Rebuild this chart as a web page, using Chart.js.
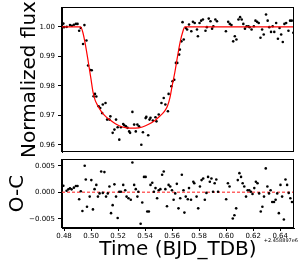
<!DOCTYPE html>
<html>
<head>
<meta charset="utf-8">
<script src="https://cdn.jsdelivr.net/npm/chart.js@4/dist/chart.umd.min.js"></script>
<style>
  html, body { margin: 0; padding: 0; background: #fff; }
  #wrap { position: relative; width: 298px; height: 268px; overflow: hidden; }
  #top { position: absolute; left: 0; top: 0; }
  #bot { position: absolute; left: 0; top: 150px; }
</style>
</head>
<body>
<div id="wrap">
  <canvas id="top" width="298" height="157"></canvas>
  <canvas id="bot" width="298" height="118"></canvas>
</div>
<script>
// light curve data
const fluxTime = [
  0.4795, 0.4800, 0.4820, 0.4844, 0.4858, 0.4873, 0.4888, 0.4900, 0.4912, 0.4924,
  0.4951, 0.4941, 0.4966, 0.4978, 0.4995, 0.5005, 0.5019, 0.5029, 0.5039, 0.5056,
  0.5068, 0.5082, 0.5107, 0.5087, 0.5119, 0.5136, 0.5143, 0.5160, 0.5173, 0.5185,
  0.5197, 0.5209, 0.5221, 0.5238, 0.5246, 0.5258, 0.5270, 0.5282, 0.5289, 0.5306,
  0.5319, 0.5331, 0.5343, 0.5355, 0.5372, 0.5384, 0.5404, 0.5409, 0.5423, 0.5433,
  0.5440, 0.5457, 0.5477, 0.5484, 0.5501, 0.5521, 0.5538, 0.5550, 0.5569, 0.5574,
  0.5594, 0.5603, 0.5616, 0.5628,
  0.5638, 0.5652, 0.5657, 0.5669, 0.5677, 0.5686, 0.5701, 0.5711, 0.5725, 0.5742,
  0.5754, 0.5767, 0.5784, 0.5791, 0.5803, 0.5815, 0.5828, 0.5847, 0.5857, 0.5871,
  0.5884, 0.5896, 0.5905, 0.5920, 0.5932, 0.5998, 0.6015, 0.6027, 0.6039, 0.6052,
  0.6064, 0.6076, 0.6091, 0.6103, 0.6115, 0.6127, 0.6139, 0.6151, 0.6164, 0.6173,
  0.6188, 0.6205, 0.6217, 0.6229, 0.6241, 0.6254, 0.6266, 0.6278, 0.6295, 0.6307,
  0.6319, 0.6332, 0.6344, 0.6356, 0.6370, 0.6383, 0.6395, 0.6407, 0.6419, 0.6431,
  0.6444, 0.6461, 0.6473, 0.6485, 0.6497
];
const fluxValue = [
  1.0011, 0.9999, 1.0000, 1.0006, 1.0004, 1.0007, 1.0010, 1.0010, 0.9987, 0.9996,
  1.0006, 0.9942, 0.9954, 0.9869, 0.9854, 0.9853, 0.9765, 0.9773, 0.9764, 0.9731,
  0.9725, 0.9708, 0.9742, 0.9737, 0.9686, 0.9686, 0.9697, 0.9641, 0.9652, 0.9686,
  0.9660, 0.9618, 0.9660, 0.9671, 0.9667, 0.9663, 0.9658, 0.9646, 0.9641, 0.9712,
  0.9669, 0.9646, 0.9669, 0.9663, 0.9601, 0.9643, 0.9691, 0.9695, 0.9633, 0.9686,
  0.9692, 0.9683, 0.9694, 0.9680, 0.9703, 0.9742, 0.9759, 0.9737, 0.9714, 0.9773,
  0.9799, 0.9816, 0.9821, 0.9878,
  0.9878, 0.9906, 0.9923, 0.9951, 1.0016, 0.9957, 0.9996, 0.9991, 1.0008, 0.9985,
  1.0017, 1.0013, 0.9991, 0.9968, 1.0013, 1.0021, 1.0025, 0.9987, 0.9999, 1.0028,
  1.0019, 0.9994, 1.0002, 1.0025, 1.0019, 0.9985, 1.0017, 1.0010, 1.0006, 0.9951,
  0.9968, 0.9957, 1.0025, 1.0033, 1.0025, 1.0010, 0.9994, 1.0002, 1.0002, 0.9999,
  0.9991, 1.0002, 1.0021, 1.0017, 1.0013, 0.9963, 0.9991, 0.9974, 1.0042, 1.0021,
  0.9999, 0.9983, 1.0002, 0.9983, 1.0013, 0.9960, 0.9996, 0.9974, 0.9949, 1.0010,
  1.0013, 0.9987, 1.0021, 1.0021, 0.9980
];

// transit model (red curve)
const modelTime = [
  0.4785, 0.4922, 0.4940, 0.4960, 0.4980, 0.5000, 0.5015, 0.5030, 0.5050, 0.5075,
  0.5100, 0.5136, 0.5180, 0.5233, 0.5290, 0.5330, 0.5380, 0.5430, 0.5475, 0.5510,
  0.5540, 0.5565, 0.5584, 0.5600, 0.5620, 0.5640, 0.5660, 0.5680, 0.5693, 0.6502
];
const modelValue = [
  1.0000, 1.0000, 0.9980, 0.9935, 0.9880, 0.9822, 0.9778, 0.9752, 0.9733, 0.9714,
  0.9700, 0.9686, 0.9672, 0.9661, 0.9657, 0.9657, 0.9661, 0.9671, 0.9684, 0.9698,
  0.9712, 0.9731, 0.9760, 0.9800, 0.9846, 0.9900, 0.9950, 0.9985, 1.0000, 1.0000
];

// residuals O-C
const resTime = [
  0.4795, 0.4819, 0.4832, 0.4844, 0.4856, 0.4873, 0.4888, 0.4900, 0.4912, 0.4924,
  0.4936, 0.4953, 0.4961, 0.4970, 0.4990, 0.5002, 0.5014, 0.5026, 0.5039, 0.5051,
  0.5063, 0.5075, 0.5087, 0.5099, 0.5111, 0.5124, 0.5136, 0.5148, 0.5160, 0.5173,
  0.5185, 0.5197, 0.5209, 0.5221, 0.5238, 0.5253, 0.5263, 0.5277, 0.5294, 0.5306,
  0.5319, 0.5331, 0.5343, 0.5350, 0.5367, 0.5379, 0.5392, 0.5404, 0.5416,
  0.5428, 0.5440, 0.5453, 0.5465, 0.5477, 0.5489, 0.5501, 0.5513, 0.5526, 0.5538,
  0.5550, 0.5562, 0.5574, 0.5586, 0.5599, 0.5611, 0.5623, 0.5635, 0.5647, 0.5660,
  0.5672, 0.5684, 0.5691, 0.5701, 0.5716, 0.5725, 0.5740, 0.5757, 0.5764, 0.5781,
  0.5793, 0.5806, 0.5818, 0.5830, 0.5842, 0.5854, 0.5866, 0.5879, 0.5891, 0.5903,
  0.5915, 0.5927, 0.5940, 0.6000, 0.6013, 0.6025, 0.6049, 0.6061, 0.6074, 0.6086,
  0.6098, 0.6110, 0.6122, 0.6134, 0.6147, 0.6159, 0.6171, 0.6183, 0.6195, 0.6208,
  0.6220, 0.6232, 0.6244, 0.6256, 0.6268, 0.6280, 0.6293, 0.6305, 0.6317, 0.6329,
  0.6341, 0.6354, 0.6366, 0.6378, 0.6390, 0.6402, 0.6414, 0.6427, 0.6439, 0.6451,
  0.6463, 0.6475, 0.6487, 0.6499
];
const resValue = [
  0.00125, 0.0003, 0.00056, 0.00075, 0.00056, 0.00088, 0.0012, 0.0012, -0.0013, 0.0002,
  -0.0035, 0.0050, 0.0024, -0.0027, -0.0008, 0.0023, -0.0032, 0.0006, 0.0014, -0.0008,
  -0.0002, 0.0039, -0.0001, 0.0038, -0.0008, -0.0002, 0.0011, -0.0039, -0.0024, 0.0015,
  -0.0008, -0.0048, 0.0001, 0.0001, 0.0014, 0.0004, -0.0008, -0.0011, -0.0014, 0.0056,
  0.0014, 0.0006, -0.0008, 0.0001, -0.0059, -0.0019, 0.0029, 0.0029, -0.0036,
  -0.0036, 0.0014, 0.0018, 0.0001, 0.0008, -0.0011, 0.0004, 0.0006, 0.0033, 0.0039,
  0.0006, -0.0026, 0.0014, 0.0011, 0.0004, -0.0014, -0.0002, 0.0016, -0.0030, -0.0011,
  0.0033, 0.0004, -0.0038, -0.0008, -0.0013, 0.0008, -0.0014, 0.0020, 0.0017, -0.0008,
  -0.0030, 0.0011, 0.0023, 0.0026, -0.0014, -0.0001, 0.0029, 0.0020, 0.0026, 0.0001,
  0.0017, 0.0024, 0.0001, -0.0013, 0.0017, 0.0011, -0.0049, -0.0043, -0.0030, 0.0023,
  0.0036, 0.0029, 0.0017, 0.0011, -0.0008, 0.0004, 0.0004, 0.0001, -0.0003, 0.0008,
  0.0020, 0.0017, -0.0002, -0.0036, -0.0027, -0.0008, 0.0045, 0.0011, -0.0002, 0.0004,
  -0.0018, -0.0018, -0.0014, -0.0002, -0.0039, 0.0014, -0.0008, -0.0051, 0.0024, 0.0014,
  -0.0001, -0.0011, -0.0018, -0.0018
];

const xTicks = [0.48, 0.50, 0.52, 0.54, 0.56, 0.58, 0.60, 0.62, 0.64];
const fluxTicks = [0.96, 0.97, 0.98, 0.99, 1.00];
const resTicks = [-0.005, 0.000, 0.005];
const xMin = 0.4785, xMax = 0.6502;

const FONT = "DejaVu Sans";
Chart.defaults.font.family = FONT;
Chart.defaults.color = "#000";

function pts(xs, ys) {
  return xs.map((x, i) => ({ x: x, y: ys[i] }));
}

// box around the plot area
const frame = {
  id: "frame",
  afterDraw(chart) {
    const a = chart.chartArea;
    const ctx = chart.ctx;
    ctx.save();
    ctx.strokeStyle = "#000";
    ctx.lineWidth = 1;
    ctx.strokeRect(Math.round(a.left) - 0.5, Math.round(a.top) + 0.5,
      Math.round(a.right - a.left), Math.round(a.bottom - a.top) - 1);
    ctx.restore();
  }
};

function yAxis(min, max, ticks, fmt, title, pad) {
  return {
    min: min, max: max,
    afterFit(s) { s.width = 62; s.paddingTop = 0; s.paddingBottom = 0; },
    afterBuildTicks(s) { s.ticks = ticks.map(v => ({ value: v })); },
    ticks: { font: { size: 7 }, color: "#000", padding: 3, callback: fmt },
    grid: { drawOnChartArea: false, tickLength: 4, color: "#000" },
    border: { color: "#000" },
    title: { display: true, text: title, color: "#000", font: { size: 20 }, padding: { top: pad, bottom: 0 } }
  };
}

new Chart(document.getElementById("top"), {
  type: "scatter",
  data: {
    datasets: [
      {
        data: pts(modelTime, modelValue), showLine: true, borderColor: "#ff0000",
        borderWidth: 1.2, pointRadius: 0, cubicInterpolationMode: "monotone"
      },
      {
        data: pts(fluxTime, fluxValue), pointRadius: 1.3, backgroundColor: "#000", borderWidth: 0
      }
    ]
  },
  options: {
    responsive: false, animation: false,
    layout: { padding: { top: 7, right: 1, bottom: 5, left: 0 } },
    plugins: { legend: { display: false }, tooltip: { enabled: false } },
    scales: {
      x: { type: "linear", display: false, min: xMin, max: xMax },
      y: yAxis(0.95762, 1.00673, fluxTicks, v => v.toFixed(2), "Normalized flux", 18)
    }
  },
  plugins: [frame]
});

const offsetText = {
  id: "offsetText",
  afterDraw(chart) {
    const ctx = chart.ctx;
    ctx.save();
    ctx.font = "5px " + FONT;
    ctx.fillStyle = "#000";
    ctx.textAlign = "right";
    ctx.textBaseline = "middle";
    ctx.fillText("+2.458897e6", 298, 91);
    ctx.restore();
  }
};

new Chart(document.getElementById("bot"), {
  type: "scatter",
  data: {
    datasets: [
      {
        data: pts(resTime, resValue), pointRadius: 1.3, backgroundColor: "#000", borderWidth: 0
      },
      {
        data: [{ x: xMin, y: 0 }, { x: xMax, y: 0 }], showLine: true, pointRadius: 0,
        borderColor: "rgba(255,60,60,0.8)", borderWidth: 1.5, borderDash: [3, 2]
      }
    ]
  },
  options: {
    responsive: false, animation: false,
    layout: { padding: { top: 9, right: 1, bottom: 0, left: 0 } },
    plugins: { legend: { display: false }, tooltip: { enabled: false } },
    scales: {
      x: {
        type: "linear", min: xMin, max: xMax,
        afterFit(s) { s.height = 40; s.paddingLeft = 0; s.paddingRight = 0; },
        afterBuildTicks(s) { s.ticks = xTicks.map(v => ({ value: v })); },
        ticks: { font: { size: 7 }, color: "#000", padding: 1, maxRotation: 0, autoSkip: false, callback: v => v.toFixed(2) },
        grid: { drawOnChartArea: false, tickLength: 3, color: "#000" },
        border: { color: "#000" },
        title: { display: true, text: "Time (BJD_TDB)", color: "#000", font: { size: 20 }, padding: { top: 0, bottom: 6 } }
      },
      y: yAxis(-0.00669, 0.00626, resTicks,
        v => (v < 0 ? "\u2212" : "") + Math.abs(v).toFixed(3), "O-C", 6)
    }
  },
  plugins: [frame, offsetText]
});
</script>
</body>
</html>
